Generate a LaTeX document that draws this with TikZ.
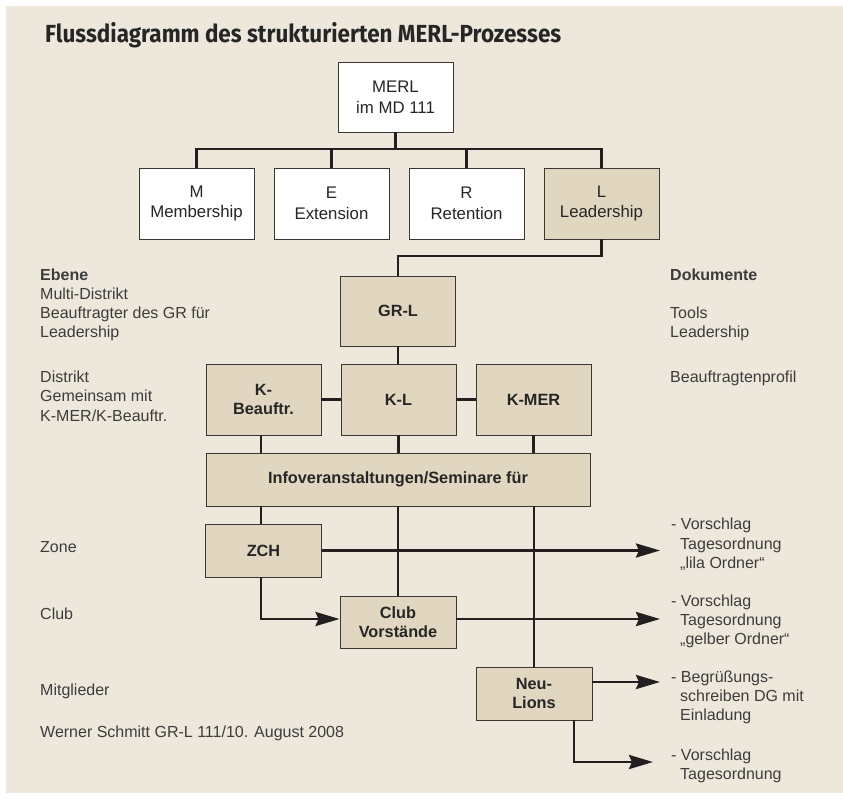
\documentclass[tikz,border=0pt]{standalone}
\usepackage{graphicx}
\usepackage{fontspec}
\setmainfont{Liberation Sans}
\newfontfamily\titlefont{Fira Sans}
\usetikzlibrary{arrows.meta,calc}
\definecolor{bgc}{HTML}{EEE8DC}
\definecolor{boxc}{HTML}{E1D7C1}
\definecolor{linec}{HTML}{231F20}
\definecolor{boxline}{HTML}{3A3632}
\definecolor{txtc}{HTML}{3C3C3C}
\definecolor{darktxt}{HTML}{262626}
\begin{document}
\begin{tikzpicture}[x=1pt,y=-1pt,
  box/.style={draw=boxline, line width=0.9pt, fill=boxc, inner sep=0pt, align=center,
    font=\fontsize{16.3}{19.5}\selectfont\bfseries, text=darktxt,
    minimum width=115pt, minimum height=70pt},
  wbox/.style={box, fill=white, font=\fontsize{16.8}{20.5}\selectfont},
  conn/.style={draw=linec, line width=2.9pt},
  arr/.style={conn, -{Stealth[length=24pt,width=14pt,inset=3pt]}},
  lbl/.style={anchor=base west, inner sep=0pt, text=txtc, font=\fontsize{16}{19.5}\selectfont},
  blbl/.style={lbl, font=\fontsize{16}{19.5}\selectfont\bfseries}
]
% background
\fill[white] (0,0) rectangle (843,798);
\fill[bgc] (6,6) rectangle (843,793);
\useasboundingbox (0,0) rectangle (843,798);

% title
\node[anchor=base west, inner sep=0pt, text=darktxt] (title) at (45,42.3)
  {\resizebox{516pt}{\height}{\titlefont\bfseries\fontsize{24.7}{28}\selectfont Flussdiagramm des strukturierten MERL-Prozesses}};

% boxes
\node[wbox] (merl) at (395.5,97) {MERL\\im MD 111};
\node[wbox, minimum height=71pt] (m) at (196.5,203.5) {M\\Membership};
\node[wbox, minimum height=71pt] (e) at (331.5,203.5) {E\\Extension};
\node[wbox, minimum height=71pt] (r) at (466.5,203.5) {R\\Retention};
\node[wbox, minimum height=71pt, fill=boxc] (l) at (601.5,203.5) {L\\Leadership};
\node[box] (grl) at (398,311) {GR-L};
\node[box, minimum height=71pt] (kb) at (263.5,399.5) {K-\\Beauftr.};
\node[box, minimum height=71pt] (kl) at (398.5,399.5) {K-L};
\node[box, minimum height=71pt] (kmer) at (533.5,399.5) {K-MER};
\node[box, minimum width=384pt, minimum height=53pt] (info) at (398,479.5) {Infoveranstaltungen/Seminare für};
\node[box, minimum width=116pt, minimum height=53pt] (zch) at (263.5,550.5) {ZCH};
\node[box, minimum width=116pt, minimum height=52pt] (club) at (398,622) {Club\\Vorstände};
\node[box, minimum width=116pt, minimum height=53pt] (neu) at (534,693.5) {Neu-\\Lions};

% connectors
\coordinate (bus) at (0,149);
\coordinate (lturn) at (0,256);
\coordinate (tipx) at (660,0);
\coordinate (leftcol) at (261,0);
\coordinate (clubrow) at (0,619);
\coordinate (neurow) at (0,682);
\coordinate (neudown) at (574,762);
\coordinate (lasttip) at (653,762);

\draw[conn] (merl.south) -- (merl.south |- bus);
\draw[conn] (m.north) -- (m.north |- bus) -- (l.north |- bus) -- (l.north);
\draw[conn] (e.north) -- (e.north |- bus);
\draw[conn] (r.north) -- (r.north |- bus);
\draw[conn] (l.south) -- (l.south |- lturn) -- (grl.north |- lturn) -- (grl.north);
\draw[conn] (grl.south) -- (grl.south |- kl.north);
\draw[conn] (kb.east) -- (kl.west);
\draw[conn] (kl.east) -- (kmer.west);
\draw[conn] (kb.south -| leftcol) -- (info.north -| leftcol);
\draw[conn] (kl.south) -- (kl.south |- info.north);
\draw[conn] (kmer.south) -- (kmer.south |- info.north);
\draw[conn] (info.south -| leftcol) -- (zch.north -| leftcol);
\draw[conn] (club.north |- info.south) -- (club.north);
\draw[conn] (neu.north |- info.south) -- (neu.north);
\draw[arr] (zch.east) -- (zch.east -| tipx);
\draw[arr] (zch.south -| leftcol) -- (leftcol |- clubrow) -- (club.west |- clubrow);
\draw[arr] (club.east |- clubrow) -- (tipx |- clubrow);
\draw[arr] (neu.east |- neurow) -- (tipx |- neurow);
\draw[arr] (neu.south -| neudown) -- (neudown) -- (lasttip);

% left labels
\node[blbl] (ebene) at (40,280) {Ebene};
\node[lbl] (l1) at (40,299.3) {Multi-Distrikt};
\node[lbl] (l2) at (40,318.5) {Beauftragter des GR für};
\node[lbl] (l3) at (40,337.7) {Leadership};
\node[lbl] (l4) at (40,382.7) {Distrikt};
\node[lbl] (l5) at (40,401.9) {Gemeinsam mit};
\node[lbl] (l6) at (40,421.2) {K-MER/K-Beauftr.};
\node[lbl] (l7) at (40,552.3) {Zone};
\node[lbl] (l8) at (40,619) {Club};
\node[lbl] (l9) at (40,695.7) {Mitglieder};
\node[lbl] (l10) at (40,737.3) {Werner Schmitt GR-L 111/10. August 2008};

% right labels
\node[blbl] (doku) at (670,280) {Dokumente};
\node[lbl] (r1) at (670,318.5) {Tools};
\node[lbl] (r2) at (670,337.7) {Leadership};
\node[lbl] (r3) at (670,382.7) {Beauftragtenprofil};
\node[lbl] (g1a) at (671,529.8) {- Vorschlag};
\node[lbl] (g1b) at (680,549.3) {Tagesordnung};
\node[lbl] (g1c) at (680,568.5) {„lila Ordner“};
\node[lbl] (g2a) at (671,606) {- Vorschlag};
\node[lbl] (g2b) at (680,625.3) {Tagesordnung};
\node[lbl] (g2c) at (680,644.5) {„gelber Ordner“};
\node[lbl] (g3a) at (671,682.3) {- Begrüßungs-};
\node[lbl] (g3b) at (680,701.3) {schreiben DG mit};
\node[lbl] (g3c) at (680,720.3) {Einladung};
\node[lbl] (g4a) at (671,760) {- Vorschlag};
\node[lbl] (g4b) at (680,779.3) {Tagesordnung};
\end{tikzpicture}
\end{document}
